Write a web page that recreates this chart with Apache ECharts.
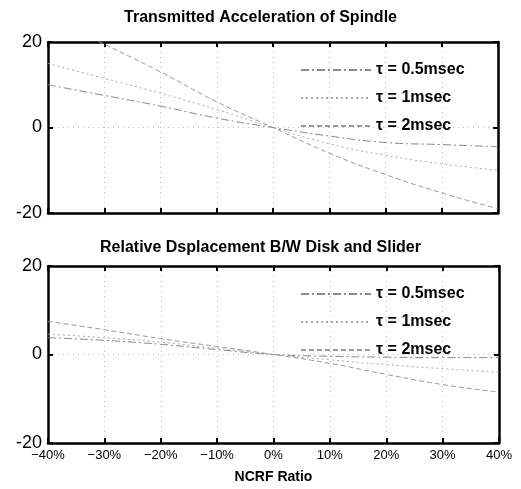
<!DOCTYPE html>
<html>
<head>
<meta charset="utf-8">
<script src="https://cdn.jsdelivr.net/npm/echarts@6/dist/echarts.min.js"></script>
<style>
  html, body { margin: 0; padding: 0; background: #fff; }
  #main { width: 521px; height: 489px; }
</style>
</head>
<body>
<div id="main"></div>
<script>
// NCRF ratio (%)
var ratio = [-40, -30, -20, -10, 0, 10, 20, 30, 40];
var seriesNames = ['τ = 0.5msec', 'τ = 1msec', 'τ = 2msec'];

// Transmitted Acceleration of Spindle
var accel05 = [10, 7.5, 5, 2.2, 0, -2, -3.5, -4, -4.5];
var accel1 = [15, 11.5, 8, 4.2, 0, -3.8, -6.5, -8.5, -10];
var accel2 = [26, 19.5, 13, 6, 0, -6, -11, -15.3, -19];

// Relative Dsplacement B/W Disk and Slider
var disp05 = [3.8, 3.2, 2.3, 1.1, 0, -0.4, -0.6, -0.7, -0.7];
var disp1 = [4.6, 3.8, 2.8, 1.4, 0, -1.2, -2.3, -3.2, -4];
var disp2 = [7.5, 5.6, 3.6, 1.8, 0, -2, -4.5, -6.8, -8.5];

var lineColors = ['#888', '#aaa', '#999'];
var lineTypes = [[8, 3, 2, 3], [2, 3], [5, 3]];

function pair(ys) {
  return ratio.map(function (x, i) { return [x, ys[i]]; });
}

function fmtPct(v) {
  return (v < 0 ? '\u2212' + (-v) : v) + '%';
}

var myChart = echarts.init(document.getElementById('main'));

var grids = [
  { left: 48, right: 23, top: 42, height: 171 },
  { left: 48, right: 22, top: 266, height: 177 }
];

var boxLine = { show: true, onZero: false, lineStyle: { color: '#000', width: 2.5 } };
var tickStyle = { show: true, inside: true, length: 5, lineStyle: { color: '#000', width: 2 } };
var gridLine = { show: true, lineStyle: { color: '#bbb', type: [1, 4], width: 1 } };

var xAxes = [], yAxes = [];
[0, 1].forEach(function (g) {
  xAxes.push({
    type: 'value', gridIndex: g, position: 'bottom', min: -40, max: 40, interval: 10,
    axisLine: boxLine,
    axisTick: tickStyle,
    axisLabel: {
      show: g === 1, color: '#000', fontSize: 13, fontFamily: 'Arial', margin: 6,
      formatter: fmtPct
    },
    splitLine: gridLine,
    name: g === 1 ? 'NCRF Ratio' : '',
    nameLocation: 'middle', nameGap: 27,
    nameTextStyle: { color: '#000', fontSize: 14, fontWeight: 'bold', fontFamily: 'Arial' }
  });
  xAxes.push({
    type: 'value', gridIndex: g, position: 'top', min: -40, max: 40, interval: 10,
    axisLine: boxLine,
    axisTick: tickStyle,
    axisLabel: { show: false },
    splitLine: { show: false }
  });
  yAxes.push({
    type: 'value', gridIndex: g, position: 'left', min: -20, max: 20, interval: 20,
    axisLine: boxLine,
    axisTick: tickStyle,
    axisLabel: { color: '#000', fontSize: 18, fontFamily: 'Arial', margin: 6 },
    splitLine: gridLine
  });
  yAxes.push({
    type: 'value', gridIndex: g, position: 'right', min: -20, max: 20, interval: 20,
    axisLine: boxLine,
    axisTick: tickStyle,
    axisLabel: { show: false },
    splitLine: { show: false }
  });
});

var topData = [accel05, accel1, accel2];
var botData = [disp05, disp1, disp2];
var series = [];
[topData, botData].forEach(function (set, g) {
  set.forEach(function (ys, k) {
    series.push({
      name: seriesNames[k], type: 'line', xAxisIndex: g * 2, yAxisIndex: g * 2,
      data: pair(ys), symbol: 'none', smooth: true, clip: true,
      lineStyle: { color: lineColors[k], width: 1, type: lineTypes[k] },
      itemStyle: { color: lineColors[k] }
    });
  });
});

function legendAt(top) {
  return {
    data: seriesNames, orient: 'vertical', left: 295, top: top,
    itemWidth: 70, itemHeight: 12, itemGap: 12,
    itemStyle: { opacity: 0 },
    textStyle: { color: '#000', fontSize: 16, fontWeight: 'bold', fontFamily: 'Arial' },
    selectedMode: false
  };
}

myChart.setOption({
  animation: false,
  backgroundColor: '#fff',
  title: [
    { text: 'Transmitted Acceleration of Spindle', left: 'center', top: 5,
      textStyle: { color: '#000', fontSize: 16, fontWeight: 'bold', fontFamily: 'Arial' } },
    { text: 'Relative Dsplacement B/W Disk and Slider', left: 'center', top: 235,
      textStyle: { color: '#000', fontSize: 16, fontWeight: 'bold', fontFamily: 'Arial' } }
  ],
  legend: [legendAt(57), legendAt(281)],
  grid: grids,
  xAxis: xAxes,
  yAxis: yAxes,
  series: series
});
</script>
</body>
</html>
